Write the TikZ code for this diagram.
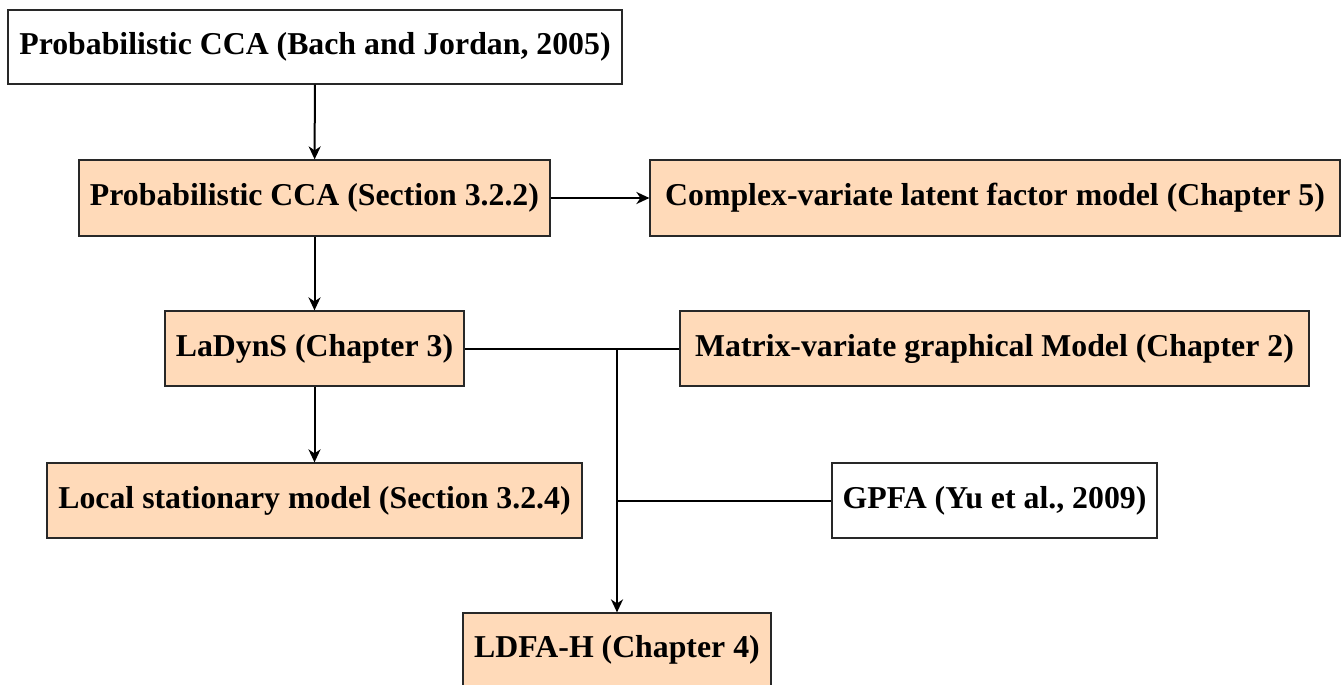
\documentclass[tikz,border=0pt]{standalone}
\usepackage{fontspec}
\setmainfont{Liberation Serif}
\usetikzlibrary{arrows.meta}
\definecolor{peach}{RGB}{255,218,185}
\definecolor{edge}{RGB}{40,40,40}
\newcommand{\lbl}[1]{\raisebox{-2.5pt}{#1}}
\tikzset{
  box/.style={draw=edge, line width=0.6pt, inner sep=0pt, font=\fontsize{15.9}{18}\selectfont\bfseries, anchor=center},
  pbox/.style={box, fill=peach},
  wbox/.style={box, fill=white},
  conn/.style={line width=1pt, draw=black},
  arr/.style={conn, -{Stealth[length=6.5pt,width=6pt,inset=2pt]}}
}
\begin{document}
\begin{tikzpicture}[x=0.5pt,y=-0.5pt]
\useasboundingbox (0,0) rectangle (1341,685);
\node[wbox, minimum width=307pt, minimum height=37pt] (pcca) at (315,47) {\lbl{Probabilistic CCA (Bach and Jordan, 2005)}};
\node[pbox, minimum width=235.5pt, minimum height=38pt] (pccas) at (314.5,198) {\lbl{Probabilistic CCA (Section 3.2.2)}};
\node[pbox, minimum width=345pt, minimum height=38pt] (cvlf) at (995,198) {\lbl{Complex-variate latent factor model (Chapter 5)}};
\node[pbox, minimum width=149.5pt, minimum height=37.5pt] (ladyns) at (314.5,348.5) {\lbl{LaDynS (Chapter 3)}};
\node[pbox, minimum width=314.5pt, minimum height=37.5pt] (mvgm) at (994.5,348.5) {\lbl{Matrix-variate graphical Model (Chapter 2)}};
\node[pbox, minimum width=267.5pt, minimum height=37.5pt] (lsm) at (314.5,500.5) {\lbl{Local stationary model (Section 3.2.4)}};
\node[wbox, minimum width=162.5pt, minimum height=37.5pt] (gpfa) at (994.5,500.5) {\lbl{GPFA (Yu et al., 2009)}};
\node[pbox, minimum width=154pt, minimum height=37pt] (ldfa) at (617,650) {\lbl{LDFA-H (Chapter 4)}};
\coordinate (j1) at (617,348.5);
\coordinate (j2) at (617,500.5);
\draw[arr] (pcca) -- (pccas);
\draw[arr] (pccas) -- (cvlf);
\draw[arr] (pccas) -- (ladyns);
\draw[arr] (ladyns) -- (lsm);
\draw[conn] (ladyns.east) -- (mvgm.west);
\draw[conn] (gpfa.west) -- (j2);
\draw[arr] (j1) -- (ldfa.north);
\end{tikzpicture}
\end{document}
